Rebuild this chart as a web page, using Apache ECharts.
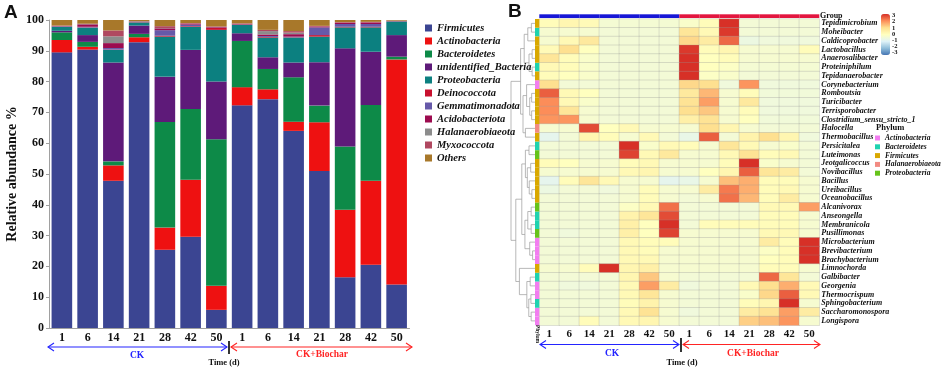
<!DOCTYPE html>
<html>
<head>
<meta charset="utf-8">
<title>Phylum abundance and genus heatmap</title>
<script src="https://cdn.jsdelivr.net/npm/echarts@6/dist/echarts.min.js"></script>
<style>
  html, body { margin: 0; padding: 0; background: #fff; }
  #main { width: 941px; height: 370px; }
</style>
</head>
<body>
<div id="main"></div>
<script>
// sampling days (same for both treatments)
var days = [1, 6, 14, 21, 28, 42, 50]
var groups = ['CK', 'CK+Biochar']

// ---- panel A: relative abundance (%) of top phyla ----
var phyla = ['Firmicutes', 'Actinobacteria', 'Bacteroidetes', 'unidentified_Bacteria', 'Proteobacteria',
  'Deinococcota', 'Gemmatimonadota', 'Acidobacteriota', 'Halanaerobiaeota', 'Myxococcota', 'Others']
var phylaColors = ['#3b4592', '#ee1111', '#0d8a48', '#5e1a79', '#0c8080',
  '#c8102e', '#6659a9', '#9c0b4f', '#8c8c8c', '#b04860', '#a8782a']
var firmicutes = [89.5, 90.4, 47.8, 92.8, 25.4, 29.6, 5.9, 72.3, 74.3, 64.0, 51.0, 16.5, 20.5, 14.1]
var actinobacteria = [4.0, 0.9, 5.0, 1.6, 7.2, 18.5, 7.8, 5.9, 3.2, 3.0, 15.8, 21.9, 27.3, 73.1]
var bacteroidetes = [2.5, 1.6, 1.3, 1.1, 34.3, 23.0, 47.6, 15.0, 6.6, 14.4, 5.4, 20.5, 24.6, 0.9]
var unidentified = [0.5, 2.2, 32.1, 2.7, 14.7, 19.2, 18.7, 2.5, 3.8, 4.8, 14.1, 31.9, 17.3, 7.0]
var proteobacteria = [1.3, 2.4, 4.1, 1.0, 13.0, 7.5, 16.8, 2.7, 6.4, 8.1, 8.3, 6.8, 7.9, 4.4]
var deinococcota = [0.1, 0.1, 0.1, 0.1, 0.3, 0.2, 0.6, 0.2, 0.2, 0.1, 0.5, 0.2, 0.2, 0.1]
var gemmatimonadota = [0.1, 0.2, 0.5, 0.2, 1.8, 0.5, 0.1, 0.1, 0.3, 0.2, 2.5, 0.9, 0.9, 0.1]
var acidobacteriota = [0.1, 0.8, 1.6, 0.0, 0.6, 0.3, 0.2, 0.1, 0.5, 0.8, 0.3, 0.4, 0.5, 0.0]
var halanaerobiaeota = [0.0, 0.1, 2.2, 0.0, 0.1, 0.0, 0.0, 0.0, 1.1, 0.5, 0.0, 0.0, 0.0, 0.0]
var myxococcota = [0.1, 0.1, 1.9, 0.1, 0.6, 0.2, 0.2, 0.1, 0.4, 0.5, 0.2, 0.2, 0.2, 0.1]
var others = [1.8, 1.2, 3.4, 0.4, 2.0, 1.0, 2.1, 1.1, 3.2, 3.6, 1.9, 0.7, 0.6, 0.2]
var phylaValues = [firmicutes, actinobacteria, bacteroidetes, unidentified, proteobacteria,
  deinococcota, gemmatimonadota, acidobacteriota, halanaerobiaeota, myxococcota, others]
var yTicks = [0, 100, 10] // min, max, step

// ---- panel B: z-score heatmap of top genera ----
var genera = ['Tepidimicrobium', 'Moheibacter', 'Caldicoprobacter', 'Lactobacillus', 'Anaerosalibacter',
  'Proteiniphilum', 'Tepidanaerobacter', 'Corynebacterium', 'Romboutsia', 'Turicibacter',
  'Terrisporobacter', 'Clostridium_sensu_stricto_1', 'Halocella', 'Thermobacillus', 'Persicitalea',
  'Luteimonas', 'Jeotgalicoccus', 'Novibacillus', 'Bacillus', 'Ureibacillus',
  'Oceanobacillus', 'Alcanivorax', 'Anseongella', 'Membranicola', 'Pusillimonas',
  'Microbacterium', 'Brevibacterium', 'Brachybacterium', 'Limnochorda', 'Galbibacter',
  'Georgenia', 'Thermocrispum', 'Sphingobacterium', 'Saccharomonospora', 'Longispora']
var generaPhylum = ['Firmicutes', 'Bacteroidetes', 'Firmicutes', 'Firmicutes', 'Firmicutes',
  'Bacteroidetes', 'Firmicutes', 'Actinobacteria', 'Firmicutes', 'Firmicutes',
  'Firmicutes', 'Firmicutes', 'Halanaerobiaeota', 'Firmicutes', 'Bacteroidetes',
  'Proteobacteria', 'Firmicutes', 'Firmicutes', 'Firmicutes', 'Firmicutes',
  'Firmicutes', 'Proteobacteria', 'Bacteroidetes', 'Bacteroidetes', 'Proteobacteria',
  'Actinobacteria', 'Actinobacteria', 'Actinobacteria', 'Firmicutes', 'Bacteroidetes',
  'Actinobacteria', 'Actinobacteria', 'Bacteroidetes', 'Actinobacteria', 'Actinobacteria']
var phylumLegend = ['Actinobacteria', 'Bacteroidetes', 'Firmicutes', 'Halanaerobiaeota', 'Proteobacteria']
var phylumLegendColors = ['#f27df0', '#1fd3b0', '#d9a800', '#f28b82', '#66c31a']

// one row per genus, 14 samples (CK 1..50, CK+Biochar 1..50)
var heat = [
  [0.1, 0.3, 0.15, -0.35, -0.35, -0.35, -0.35, -0.2, 0.1, 3.1, -0.4, -0.4, -0.4, -0.4],
  [-0.3, -0.3, -0.3, -0.4, -0.4, -0.4, -0.4, 0.8, 0.2, 2.9, -0.4, -0.4, -0.4, -0.4],
  [-0.3, 0.2, 0.7, -0.4, -0.4, -0.4, -0.4, 1.1, 0.6, 2.4, -0.6, -0.5, -0.5, -0.5],
  [0.15, 1.0, 0.0, -0.4, -0.4, -0.4, -0.4, 2.9, 0.1, 0.3, -0.3, -0.3, -0.3, 0.1],
  [0.8, 0.1, -0.2, -0.4, -0.4, -0.4, -0.4, 3.0, 0.0, 0.1, -0.3, -0.3, -0.3, -0.3],
  [0.2, 0.1, -0.2, -0.4, -0.4, -0.4, -0.4, 3.1, 0.0, -0.1, -0.35, -0.35, -0.35, -0.35],
  [0.1, 0.0, -0.2, -0.4, -0.4, -0.4, -0.4, 3.2, -0.1, -0.2, -0.4, -0.4, -0.4, -0.4],
  [1.0, -0.4, -0.4, -0.4, -0.4, -0.4, -0.4, 1.1, 1.0, -0.5, 1.9, -0.5, -0.5, -0.5],
  [2.5, 0.2, 0.0, -0.4, -0.4, -0.4, -0.4, 0.7, 1.5, -0.3, 0.1, -0.45, -0.45, -0.45],
  [2.0, 0.2, -0.2, -0.4, -0.4, -0.4, -0.4, 0.9, 1.8, -0.3, 0.7, -0.5, -0.5, -0.5],
  [2.0, 0.8, -0.3, -0.4, -0.4, -0.4, -0.4, 1.0, 1.3, -0.3, 0.1, -0.5, -0.5, -0.5],
  [1.9, 1.9, -0.3, -0.4, -0.4, -0.4, -0.4, 0.5, 0.9, -0.3, 0.0, -0.45, -0.45, -0.45],
  [-0.3, -0.3, 2.7, 0.0, 0.2, -0.3, -0.3, -0.3, 1.0, 0.3, -0.3, -0.4, -0.4, -0.4],
  [-0.8, -0.4, 0.3, 0.1, -0.3, 0.2, -0.4, -0.7, 2.5, -0.4, 0.4, 1.0, 0.3, -0.5],
  [-0.4, -0.4, -0.4, -0.4, 3.0, -0.2, 0.2, 0.1, -0.3, 0.8, 0.2, -0.3, -0.2, -0.4],
  [-0.4, -0.4, -0.4, -0.4, 2.8, 0.2, 0.7, -0.3, -0.3, 0.2, 0.9, 0.1, 0.2, -0.4],
  [0.1, 0.0, -0.3, -0.3, 0.1, 0.2, -0.3, -0.3, -0.3, 0.1, 3.1, -0.2, -0.3, -0.4],
  [-0.3, -0.3, -0.3, -0.3, 0.2, 0.3, -0.3, -0.3, 0.0, 0.3, 2.5, 0.8, 0.6, -0.4],
  [-0.8, 0.1, 0.8, 0.2, -0.3, -0.3, -0.8, -0.7, -0.3, 1.4, 1.6, 0.1, 0.1, -0.3],
  [-0.6, -0.4, -0.4, -0.5, -0.3, 0.1, -0.3, -0.3, 0.6, 2.2, 1.6, 0.1, 0.2, -0.3],
  [-0.4, -0.4, -0.4, -0.4, -0.3, 0.1, -0.3, -0.4, -0.3, 2.3, 1.5, 0.1, 0.6, -0.3],
  [-0.4, -0.4, -0.4, -0.4, -0.1, 0.2, 2.3, -0.4, -0.4, -0.4, -0.4, 0.2, 0.2, 1.8],
  [-0.4, -0.4, -0.4, -0.4, 0.4, 0.8, 2.7, -0.4, -0.4, -0.4, -0.4, 0.1, 0.1, -0.3],
  [-0.4, -0.4, -0.4, -0.4, 0.5, 0.0, 3.1, -0.4, 0.1, 0.1, 0.1, 0.1, 0.1, -0.3],
  [-0.4, -0.5, -0.4, -0.4, 0.5, 0.0, 2.8, -0.3, -0.3, -0.3, -0.3, 0.2, 0.2, -0.3],
  [-0.4, -0.4, -0.4, -0.4, 0.2, 0.1, 0.1, -0.3, -0.3, -0.3, -0.3, 0.6, 0.1, 3.0],
  [-0.4, -0.4, -0.4, -0.4, 0.2, 0.1, -0.3, -0.3, -0.3, -0.3, -0.3, -0.1, 0.1, 3.2],
  [-0.4, -0.4, -0.4, -0.4, 0.2, 0.2, -0.3, -0.3, -0.3, -0.3, -0.3, 0.0, 0.1, 3.2],
  [-0.3, -0.3, 0.1, 3.1, 0.3, 0.5, -0.3, -0.3, -0.3, -0.3, -0.3, 0.1, 0.1, -0.3],
  [-0.4, -0.4, -0.4, -0.4, 0.3, 1.3, -0.3, -0.4, -0.4, -0.4, -0.4, 2.4, 0.8, -0.4],
  [-0.4, -0.5, -0.5, -0.4, 0.2, 1.8, 0.6, -0.5, -0.4, -0.4, 0.2, 1.0, 1.6, 0.2],
  [-0.4, -0.4, -0.4, -0.4, 0.2, 0.8, -0.3, -0.4, -0.4, -0.4, -0.2, 1.1, 2.5, 0.2],
  [-0.4, -0.4, -0.4, -0.4, 0.1, 0.4, -0.3, -0.4, -0.4, -0.4, 0.1, 0.3, 3.1, -0.3],
  [-0.4, -0.4, -0.4, -0.4, 0.2, 0.9, -0.3, -0.5, -0.4, -0.4, 0.6, 0.9, 1.8, 0.6],
  [-0.4, -0.4, 0.1, -0.4, 0.2, 0.3, -0.3, -0.4, -0.4, -0.4, 1.2, 1.4, 1.9, -0.3]
]
var heatColors = ['#4575b4', '#91bfdb', '#e0f3f8', '#ffffbf', '#fee090', '#fc8d59', '#d73027']
var heatTicks = [-3, -2, -1, 0, 1, 2, 3]

// row clustering: [height, left, right], leaves are row indexes
var tree = [10,
  [6, [4.5, [3, [1.5, 0, 1], 2], [2.5, [1.2, 3, 4], [1.2, 5, 6]]],
      [5, [3.5, 7, [2.2, [1.4, 8, 9], [1.4, 10, 11]]], [4, 12, 13]]],
  [8, [5.5, [4, [2.5, 14, 15], [3.2, [1.8, 16, 17], [2.4, 18, [1.3, 19, 20]]]],
         [4.2, [3, [1.6, 21, 22], [1.6, 23, 24]], [2.2, 25, [1, 26, 27]]]],
      [6.5, 28, [3.4, [2, 29, 30], [2.6, [1.7, 31, 32], [1.6, 33, 34]]]]]]

var groupColors = ['#1717d6', '#e3163f']
var serif = '"Liberation Serif", "Times New Roman", serif'

// sample keys: group|day
var samples = []
groups.forEach(function (g) {
  days.forEach(function (d) { samples.push(g + '|' + d) })
})
function dayOf(key) { return key.split('|')[1] }

var heatData = []
heat.forEach(function (row, r) {
  row.forEach(function (v, c) { heatData.push([c, r, v]) })
})

// dendrogram segments from the tree
var segs = []
function layoutTree(node) {
  if (typeof node === 'number') return [0, node]
  var a = layoutTree(node[1])
  var b = layoutTree(node[2])
  var h = node[0]
  segs.push([h, a[1], h, b[1]])
  segs.push([h, a[1], a[0], a[1]])
  segs.push([h, b[1], b[0], b[1]])
  return [h, (a[1] + b[1]) / 2]
}
layoutTree(tree)

var series = []
phyla.forEach(function (name, i) {
  series.push({
    name: name,
    type: 'bar',
    stack: 'abund',
    xAxisIndex: 0,
    yAxisIndex: 0,
    barCategoryGap: '20%',
    itemStyle: { color: phylaColors[i] },
    emphasis: { disabled: true },
    data: phylaValues[i]
  })
})
var heatIndex = series.length
series.push({
  type: 'heatmap',
  xAxisIndex: 1,
  yAxisIndex: 1,
  data: heatData,
  itemStyle: { borderColor: 'rgba(150,150,150,0.55)', borderWidth: 0.5 },
  emphasis: { disabled: true }
})
// group colour strip on top
series.push({
  type: 'bar',
  xAxisIndex: 2,
  yAxisIndex: 2,
  barCategoryGap: 0,
  silent: true,
  data: samples.map(function (s) {
    return { value: 1, itemStyle: { color: groupColors[groups.indexOf(s.split('|')[0])] } }
  })
})
// phylum strip on the left, one series per phylum
phylumLegend.forEach(function (p, i) {
  series.push({
    name: 'phy:' + p,
    type: 'bar',
    xAxisIndex: 3,
    yAxisIndex: 3,
    barWidth: '100%',
    barGap: '-100%',
    silent: true,
    itemStyle: { color: phylumLegendColors[i] },
    data: generaPhylum.map(function (g) { return g === p ? 1 : '-' })
  })
})
series.push({
  type: 'custom',
  xAxisIndex: 4,
  yAxisIndex: 4,
  silent: true,
  data: segs,
  renderItem: function (params, api) {
    var p1 = api.coord([api.value(0), api.value(1)])
    var p2 = api.coord([api.value(2), api.value(3)])
    return {
      type: 'line',
      shape: { x1: p1[0], y1: p1[1], x2: p2[0], y2: p2[1] },
      style: { stroke: '#9b9b9b', lineWidth: 0.7 }
    }
  }
})

function arrow(x1, x2, y, color) {
  var st = { stroke: color, lineWidth: 1.1, fill: null }
  return [
    { type: 'line', shape: { x1: x1, y1: y, x2: x2, y2: y }, style: st },
    { type: 'polyline', shape: { points: [[x1 + 6, y - 4], [x1, y], [x1 + 6, y + 4]] }, style: st },
    { type: 'polyline', shape: { points: [[x2 - 6, y - 4], [x2, y], [x2 - 6, y + 4]] }, style: st }
  ]
}
function txt(text, x, y, font, color, align, rot) {
  return {
    type: 'text', x: x, y: y, rotation: rot || 0,
    style: {
      text: text, font: font, fill: color,
      align: align || 'center', verticalAlign: 'middle',
      textAlign: align || 'center', textVerticalAlign: 'middle'
    }
  }
}
function bar(x, y1, y2) {
  return { type: 'line', shape: { x1: x, y1: y1, x2: x, y2: y2 }, style: { stroke: '#000', lineWidth: 1.6 } }
}

var graphics = [].concat(
  [txt('A', 4, 13, 'bold 19px "Liberation Sans", Arial, sans-serif', '#111', 'left')],
  [txt('B', 508, 12, 'bold 19px "Liberation Sans", Arial, sans-serif', '#111', 'left')],
  arrow(48, 227, 347, '#2424ff'), [bar(229, 341, 354)], arrow(231, 412, 347, '#ff2424'),
  [txt('CK', 137, 356, 'bold 9.5px ' + serif, '#2424ff'),
   txt('Time (d)', 224, 363, 'bold 8.5px ' + serif, '#111'),
   txt('CK+Biochar', 322, 355, 'bold 9.5px ' + serif, '#ff2424')],
  arrow(540, 679, 344.5, '#2424ff'), [bar(681, 338, 352)], arrow(683, 820, 344.5, '#ff2424'),
  [txt('CK', 612, 354, 'bold 9.5px ' + serif, '#2424ff'),
   txt('Time (d)', 682, 363, 'bold 8.5px ' + serif, '#111'),
   txt('CK+Biochar', 753, 354, 'bold 9.5px ' + serif, '#ff2424'),
   txt('Group', 820, 16, 'bold 8px ' + serif, '#111', 'left'),
   txt('Phylum', 876, 128, 'bold 8.5px ' + serif, '#111', 'left'),
   txt('Phylum', 537, 334, 'bold 5.5px ' + serif, '#111', 'center', -Math.PI / 2)]
)

var chart = echarts.init(document.getElementById('main'))
var option = {
  animation: false,
  backgroundColor: '#fff',
  grid: [
    { left: 49, top: 20, width: 360.5, height: 308 },
    { left: 539.3, top: 19, width: 280, height: 306.25 },
    { left: 539.3, top: 14.3, width: 280, height: 3.7 },
    { left: 535, top: 19, width: 4.3, height: 306.25 },
    { left: 511, top: 19, width: 24, height: 306.25 },
    { left: 881, top: 15.5, width: 9, height: 37 }
  ],
  xAxis: [
    {
      gridIndex: 0, type: 'category', data: samples,
      axisLine: { lineStyle: { color: '#a0a0a0' } },
      axisTick: { show: false },
      axisLabel: { formatter: dayOf, margin: 4, fontFamily: serif, fontWeight: 'bold', fontSize: 12, color: '#111' }
    },
    {
      gridIndex: 1, type: 'category', data: samples,
      axisLine: { show: false }, axisTick: { show: false }, splitLine: { show: false },
      axisLabel: { formatter: dayOf, margin: 3, fontFamily: serif, fontWeight: 'bold', fontSize: 11, color: '#111' }
    },
    { gridIndex: 2, type: 'category', data: samples, show: false },
    { gridIndex: 3, type: 'value', min: 0, max: 1, show: false },
    { gridIndex: 4, type: 'value', min: 0, max: tree[0], inverse: true, show: false },
    { gridIndex: 5, type: 'value', show: false }
  ],
  yAxis: [
    {
      gridIndex: 0, type: 'value', min: yTicks[0], max: yTicks[1], interval: yTicks[2],
      name: 'Relative abundance %', nameLocation: 'middle', nameGap: 30,
      nameTextStyle: { fontFamily: serif, fontWeight: 'bold', fontSize: 14, color: '#111' },
      axisLine: { show: true, lineStyle: { color: '#a0a0a0' } },
      axisTick: { show: true, length: 3, lineStyle: { color: '#a0a0a0' } },
      splitLine: { show: false },
      axisLabel: { margin: 5, fontFamily: serif, fontWeight: 'bold', fontSize: 12, color: '#111' }
    },
    {
      gridIndex: 1, type: 'category', data: genera, inverse: true, position: 'right',
      axisLine: { show: false }, axisTick: { show: false }, splitLine: { show: false },
      axisLabel: { interval: 0, margin: 2, fontFamily: serif, fontWeight: 'bold', fontStyle: 'italic', fontSize: 8, color: '#111' }
    },
    { gridIndex: 2, type: 'value', min: 0, max: 1, show: false },
    { gridIndex: 3, type: 'category', data: genera, inverse: true, show: false },
    { gridIndex: 4, type: 'value', min: -0.5, max: genera.length - 0.5, inverse: true, show: false },
    {
      // colour bar tick labels
      gridIndex: 5, type: 'category', data: heatTicks.map(String), boundaryGap: false, position: 'right',
      axisLine: { show: false }, axisTick: { show: false }, splitLine: { show: false },
      axisLabel: { interval: 0, margin: 2, fontFamily: serif, fontWeight: 'bold', fontSize: 6.5, color: '#111' }
    }
  ],
  visualMap: {
    type: 'continuous',
    seriesIndex: heatIndex,
    min: heatTicks[0],
    max: heatTicks[heatTicks.length - 1],
    calculable: false,
    left: 881,
    top: 14,
    itemWidth: 9,
    itemHeight: 41,
    padding: 0,
    inRange: { color: heatColors }
  },
  legend: [
    {
      data: phyla,
      orient: 'vertical',
      left: 425,
      top: 22.5,
      padding: 0,
      itemWidth: 7,
      itemHeight: 7,
      itemGap: 2.0,
      icon: 'rect',
      selectedMode: false,
      textStyle: { fontFamily: serif, fontWeight: 'bold', fontStyle: 'italic', fontSize: 10.5, color: '#111' }
    },
    {
      data: phylumLegend.map(function (p) { return 'phy:' + p }),
      formatter: function (name) { return name.replace('phy:', '') },
      orient: 'vertical',
      left: 875,
      top: 134,
      padding: 0,
      itemWidth: 5,
      itemHeight: 5,
      itemGap: 0.8,
      icon: 'rect',
      selectedMode: false,
      textStyle: { fontFamily: serif, fontWeight: 'bold', fontStyle: 'italic', fontSize: 7.5, color: '#111' }
    }
  ],
  graphic: graphics,
  series: series
}
chart.setOption(option)
</script>
</body>
</html>
